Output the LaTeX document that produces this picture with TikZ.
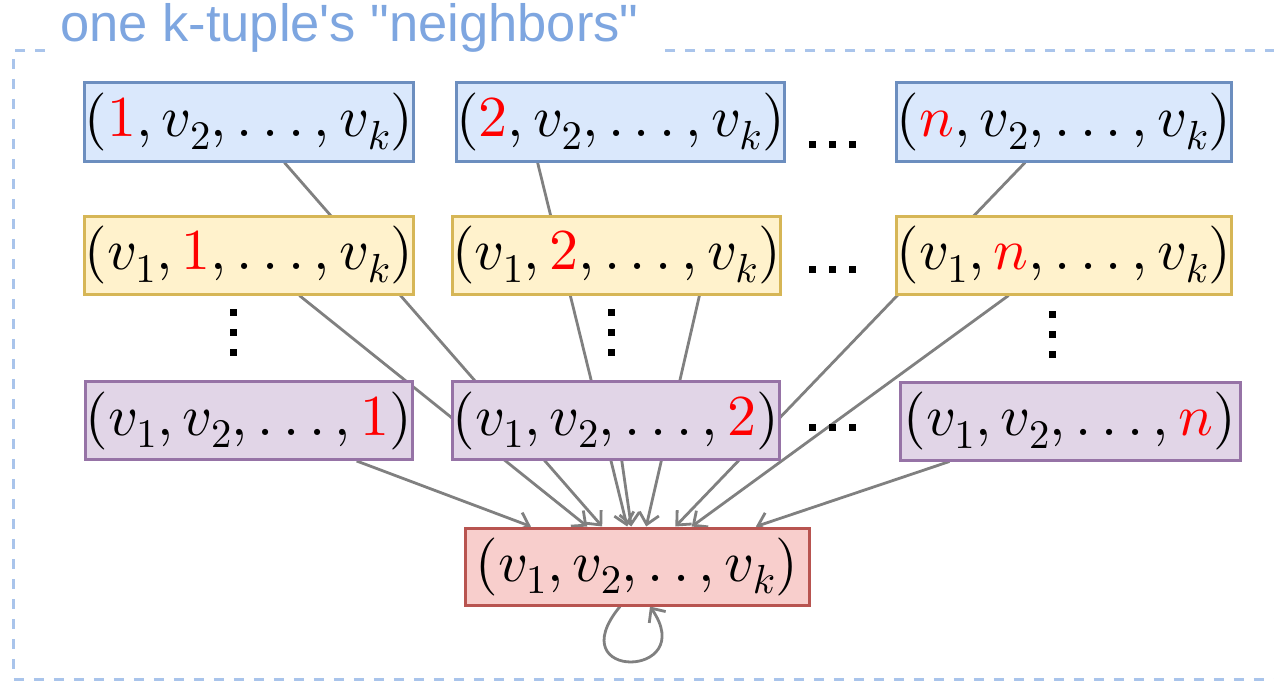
\RequirePackage{fix-cm}
\documentclass[tikz,border=0pt]{standalone}
\usepackage{fontspec}
\newfontfamily\titlefont{Liberation Sans}[Ligatures=TeXOff]
\DeclareFontShape{OML}{cmm}{m}{it}{<->cmmi10}{}
\DeclareFontShape{OT1}{cmr}{m}{n}{<->cmr10}{}
\DeclareFontShape{OMS}{cmsy}{m}{n}{<->cmsy10}{}
\usetikzlibrary{arrows.meta,backgrounds,calc}
\definecolor{bluefill}{HTML}{DAE8FC}
\definecolor{bluedraw}{HTML}{6C8EBF}
\definecolor{yelfill}{HTML}{FFF2CC}
\definecolor{yeldraw}{HTML}{D6B656}
\definecolor{purfill}{HTML}{E1D5E7}
\definecolor{purdraw}{HTML}{9673A6}
\definecolor{redfill}{HTML}{F8CECC}
\definecolor{reddraw}{HTML}{B85450}
\definecolor{titleblue}{HTML}{7EA6E0}
\definecolor{frameblue}{HTML}{A9C4EB}
\definecolor{linegray}{HTML}{808080}
\newcommand\hl[1]{\textcolor{red}{#1}}
\newcommand\dn[1]{_{\raisebox{-4pt}{$\scriptstyle #1$}}}
\newcommand\sqdot[2]{\fill[black] (#1-3.5,#2-3.5) rectangle ++(7,7);}
\begin{document}
\begin{tikzpicture}[x=1pt,y=-1pt,
  box/.style={rectangle, line width=3pt, inner sep=0pt, minimum height=78pt,
    font=\fontsize{58}{60}\selectfont},
  bluebox/.style={box, fill=bluefill, draw=bluedraw},
  yelbox/.style={box, fill=yelfill, draw=yeldraw},
  purbox/.style={box, fill=purfill, draw=purdraw},
  redbox/.style={box, fill=redfill, draw=reddraw},
  conn/.style={draw=linegray, line width=2.8pt, -{Straight Barb[length=11pt,width=20pt]}},
  framestyle/.style={draw=frameblue, line width=3pt, dash pattern=on 10pt off 10pt},
  titlestyle/.style={font=\titlefont\fontsize{52.5}{60}\selectfont, text=titleblue, inner sep=0pt, anchor=base west}
]
\useasboundingbox (0,0) rectangle (1274,682);
\clip (0,0) rectangle (1274,682);

% nodes
\node[bluebox, minimum width=322pt] (b1) at (249,122) {$(\hl{1}, v\dn{2}, \ldots, v\dn{k})$};
\node[bluebox, minimum width=323pt] (b2) at (620.5,122) {$(\hl{2}, v\dn{2}, \ldots, v\dn{k})$};
\node[bluebox, minimum width=332pt] (b3) at (1064,122) {$(\hl{n}, v\dn{2}, \ldots, v\dn{k})$};

\node[yelbox, minimum width=322pt] (y1) at (249,255) {$(v\dn{1}, \hl{1}, \ldots, v\dn{k})$};
\node[yelbox, minimum width=325pt] (y2) at (616.5,255) {$(v\dn{1}, \hl{2}, \ldots, v\dn{k})$};
\node[yelbox, minimum width=332pt] (y3) at (1064,255) {$(v\dn{1}, \hl{n}, \ldots, v\dn{k})$};

\node[purbox, minimum width=322pt] (p1) at (249,420.5) {$(v\dn{1}, v\dn{2}, \ldots, \hl{1})$};
\node[purbox, minimum width=324pt] (p2) at (616,420.5) {$(v\dn{1}, v\dn{2}, \ldots, \hl{2})$};
\node[purbox, minimum width=340pt] (p3) at (1070,421) {$(v\dn{1}, v\dn{2}, \ldots, \hl{n})$};

\node[redbox, minimum width=344pt, minimum height=77pt] (r) at (637,566.5) {$(v\dn{1}, v\dn{2}, \mathinner{\ldotp\ldotp}, v\dn{k})$};

\node[titlestyle] (title) at (60,42) {one k-tuple's "neighbors"};

% dots
\foreach \y in {145,269,427} {
  \sqdot{812}{\y} \sqdot{832}{\y} \sqdot{852}{\y}
}
\foreach \x/\ya in {233/312, 611/312, 1052/314} {
  \sqdot{\x}{\ya} \sqdot{\x}{\ya+20} \sqdot{\x}{\ya+40}
}

\begin{scope}[on background layer]
  \draw[framestyle] (45,50.5) -- (13.5,50.5) -- (13.5,679) -- (1290,679) -- (1290,50.5) -- (665,50.5);
  \draw[conn] (b1) -- (r);
  \draw[conn] ($(b2.south west)!0.25!(b2.south east)$) -- (r);
  \draw[conn] (b3) -- (r);
  \draw[conn] (y1) -- (r);
  \draw[conn] ($(y2.south west)!0.75!(y2.south east)$) -- (r);
  \draw[conn] (y3) -- (r);
  \draw[conn] (p1) -- (r);
  \draw[conn] (p2) -- (r);
  \draw[conn] (p3) -- (r);
  \draw[conn] ([xshift=-17pt]r.south) .. controls +(-62,75) and +(50,72) .. ([xshift=13pt]r.south);
\end{scope}
\end{tikzpicture}
\end{document}
